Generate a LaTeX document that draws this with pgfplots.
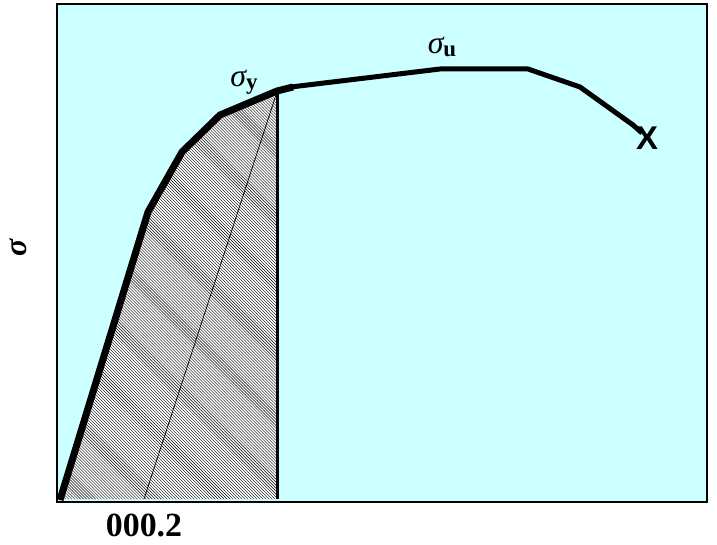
\documentclass[border=0pt]{standalone}
\usepackage{pgfplots}
\pgfplotsset{compat=1.18}
\usepackage{fontspec}
\setmainfont{Liberation Serif}
\newfontfamily\sansb{Liberation Sans}
\usetikzlibrary{patterns}
\definecolor{bgc}{HTML}{CCFFFF}
\newcommand{\sig}[1]{{\fontsize{32}{32}\selectfont\itshape σ}\raisebox{-0.28em}{\fontsize{23}{23}\selectfont\bfseries #1}}
\begin{document}
\begin{tikzpicture}
\begin{axis}[
 scale only axis, width=650bp, height=498bp,
 xmin=57, xmax=707, ymin=0, ymax=498,
 axis background/.style={fill=bgc},
 axis line style={line width=2.4bp},
 xtick=\empty, ytick=\empty,
 clip=false,
]
\path (axis cs:0,-42) rectangle (axis cs:717,502);
% hatched region
\addplot[draw=none, fill=white, postaction={pattern=north west lines, pattern color=black}]
 coordinates {(60,3) (148,290) (182,350) (220,387) (277,411) (277,3)} -- cycle;
% offset line
\addplot[black, line width=0.7bp] coordinates {(144,3) (276,407)};
% vertical line at yield
\addplot[black, line width=3bp] coordinates {(277,3) (277,411)};
% main curve
\addplot[black, line width=7bp, line join=round] coordinates {(60,2) (148,290) (182,350) (220,387) (277,411) (293,415)};
\addplot[black, line width=5bp, line join=round] coordinates {(291,415) (440,433) (528,433) (580,415) (633,377) (642,369)};
\node[font=\sansb\bfseries\fontsize{33}{33}\selectfont] at (axis cs:647,364) {X};
\node at (axis cs:244,420) {\sig{y}};
\node at (axis cs:442,455) {\sig{u}};
\node[font=\bfseries\fontsize{34}{34}\selectfont] at (axis cs:144,-23) {000.2};
\node[rotate=90, inner sep=0pt, font=\bfseries\itshape\fontsize{32}{32}\selectfont] at (axis cs:18,254) {σ};
\end{axis}
\end{tikzpicture}
\end{document}
